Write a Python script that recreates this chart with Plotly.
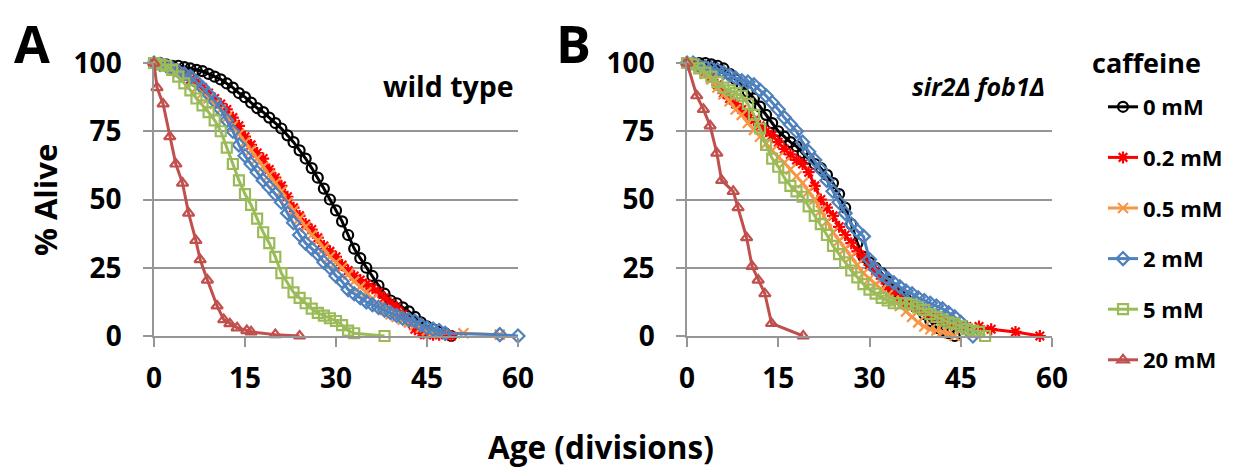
import plotly.graph_objects as go

# ---------------- data ----------------
labels = ["0 mM", "0.2 mM", "0.5 mM", "2 mM", "5 mM", "20 mM"]
colors = ["#000000", "#FF0000", "#F79646", "#4F81BD", "#9BBB59", "#C0504D"]
symbols = ["circle-open", "asterisk-open", "x-thin-open", "diamond-open", "square-open", "triangle-up-open"]

# Panel A : wild type
A_x_0 = [0,1,2,3,4,5,6,7,8,9,10,11,12,13,14,15,16,17,18,19,20,21,22,23,24,25,26,27,28,29,30,31,32,33,34,35,36,37,38,39,40,41,42,43,44,45,46,47,48,49]
A_y_0 = [100,100,99.5,99,99,98.5,98,97.5,97,96,95,94,92.5,91,89,87.5,85.5,83.5,82,80,78,76,73.5,71,68,65,61.5,58,54,50,46,42,37,32,28.5,25,22,18.5,15.5,13,12,10.5,9,7,5,3.5,2.5,1.5,1,0]

A_x_02 = [0,1,2,3,4,5,6,7,8,9,10,11,12,13,14,15,16,17,18,19,20,21,22,23,24,25,26,27,28,29,30,31,32,33,34,35,36,37,38,39,40,41,42,43,44,45,46,47,48,49]
A_y_02 = [100,100,99,98,97,96,94,93,91,89,87,85,83,80,77,73,70,67,65,61,58,55,51,47,44,41,39,36,33,31,29,26,24,22,20.5,19,17.5,16,14,12,10.5,8,5,2.5,1,0.5,0.5,0.5,0.5,0]

A_x_05 = [0,1,2,3,4,5,6,7,8,9,10,11,12,13,14,15,16,17,18,19,20,21,22,23,24,25,26,27,28,29,30,31,32,33,34,35,36,37,38,39,40,41,42,43,44,45,46,47,51,57]
A_y_05 = [100,99.5,99,98,96.5,95,93,91,89,87,85,83,80,77,74,71,68,65,62,59,56,53,49,46,43,40,37,35,32,29,27,25,22.5,20,18,16,13.5,11,9.5,8,7,6,5,4,3,2,1.5,1,1,0.5]

A_x_2 = [0,1,2,3,4,5,6,7,8,9,10,11,12,13,14,15,16,17,18,19,20,21,22,23,24,25,26,27,28,29,30,31,32,33,34,35,36,37,38,39,40,41,42,43,44,45,46,47,48,57,60]
A_y_2 = [100,99.5,99,98,97,96,95,93,91,88.5,86,83,79,75,70,66,63,60,57,54.5,52,49,45,41.5,37,34,32,30,27,25,22,20,17,15.5,14,12.5,11.5,10.5,9.5,8.5,7.5,6.5,6,5.5,4,3,2.5,2,1,0.5,0]

A_x_5 = [0,1,2,3,4,5,6,7,8,9,10,11,12,13,14,15,16,17,18,19,20,21,22,23,24,25,26,27,28,29,30,31,32,33,38]
A_y_5 = [100,99.5,99,97.5,95,92.5,90,87,84.5,82,79,75,69,63,57,52,48,43,38,34,29,23,19.5,16,14,12,10,8.5,7.5,6.5,5.5,4,2,1,0]

A_x_20 = [0,0.5,1.5,2.6,3.6,4.7,5.7,6.9,7.6,8.8,10.4,11.5,12.5,13.7,15.3,16,20,24]
A_y_20 = [100,91,85,73,63,56,45,35,28,20.5,11,6,4.5,3,2,1.5,0.5,0]

# Panel B : sir2 fob1
B_x_0 = [0,1,2,3,4,5,6,7,8,9,10,11,12,13,14,15,16,17,18,19,20,21,22,23,24,25,26,27,28,29,30,31,32,33,34,35,36,37,38,39,40,41,42,43,44]
B_y_0 = [100,100,100,100,99.5,99,98,96,94,92,89.5,87,84,81,78,75,73,71,69.5,67,65,63,61.5,59,56,52,47,41,34,29,27,25,23,20,17,15,13.5,12,10.5,8,5.5,3,2,1,0]

B_x_02 = [0,1,2,3,4,5,6,7,8,9,10,11,12,13,14,15,16,17,18,19,20,21,22,23,24,25,26,27,28,29,30,31,32,33,34,35,36,37,38,39,40,41,42,43,44,45,46,48,50,54,58]
B_y_02 = [100,100,99,97,95,92,89,87,85,83,81,79,77,75,73.5,71,68.5,66.5,64.5,63,60,55,50,47,44,40,37,34,31,29,26,24,21,18,16,14,12,11,10,9,8,7,6,5,4.5,3.5,3.5,3.5,2.5,1.5,0]

B_x_05 = [0,1,2,3,4,5,6,7,8,9,10,11,12,13,14,15,16,17,18,19,20,21,22,23,24,25,26,27,28,29,30,31,32,33,34,35,36,37,38,39,40,41,42,43,44]
B_y_05 = [100,99,98,96,94,91,88.5,86,83,81,78,75.5,73,70.5,68,65.5,63.5,61,58.5,56,53,50,46,42,38,35,32,29,26,23,21,19,17,15,13,11,9,7,5,3.5,2.5,2,1.5,1,0]

B_x_2 = [0,1,2,3,4,5,6,7,8,9,10,11,12,13,14,15,16,17,18,19,20,21,22,23,24,25,26,27,28,29,30,31,32,33,34,35,36,37,38,39,40,41,42,43,44,45,46,47]
B_y_2 = [100,100,99,98.5,98,97.5,96.5,95.5,94.5,93.5,93,92,90,88,85.5,83,80,77.5,75,71,67.5,64.5,61,57,53,49,45,41,38.5,36.5,28,24.5,22.5,21,19.5,18,16.5,15.5,14,13,12,11,10,8.5,7,5,2.5,0]

B_x_5 = [0,1,2,3,4,5,6,7,8,9,10,11,12,13,14,15,16,17,18,19,20,21,22,23,24,25,26,27,28,29,30,31,32,33,34,35,36,37,38,39,40,41,42,43,44,45,46,47,48,49]
B_y_5 = [100,99.5,98,96.5,95,93,91,90,89,88,85,81,76,70,65,62,58,55,53,51,47.5,44,41,37,33,30,27,24,21.5,19,17,15.5,14,13,12,12,12,11.5,10.5,9.5,8,7,6,5,4.5,3.5,2.5,2,1.5,0]

B_x_20 = [0,1.6,2.7,3.8,4.9,5.7,7.6,8.4,9.8,10.7,11.7,12.8,13.9,19.1]
B_y_20 = [100,88,83,77,67,57,53,47,36,25.5,20.5,15.5,4.6,0]

x_ticks = [0, 15, 30, 45, 60]
y_ticks = [0, 25, 50, 75, 100]

A_series = [(A_x_0, A_y_0), (A_x_02, A_y_02), (A_x_05, A_y_05), (A_x_2, A_y_2), (A_x_5, A_y_5), (A_x_20, A_y_20)]
B_series = [(B_x_0, B_y_0), (B_x_02, B_y_02), (B_x_05, B_y_05), (B_x_2, B_y_2), (B_x_5, B_y_5), (B_x_20, B_y_20)]

FONT = "Open Sans"
fig = go.Figure()

for panel, series in (("A", A_series), ("B", B_series)):
    for i, (xs, ys) in enumerate(series):
        fig.add_trace(go.Scatter(
            x=xs, y=ys, mode="lines+markers", name=labels[i],
            legendgroup=labels[i], showlegend=(panel == "A"),
            xaxis="x" if panel == "A" else "x2",
            yaxis="y" if panel == "A" else "y2",
            line=dict(color=colors[i], width=3),
            marker=dict(symbol=symbols[i], size=10, color=colors[i],
                        line=dict(color=colors[i], width=2.2)),
            cliponaxis=False,
        ))

grid = "#969696"
axis_common = dict(
    showgrid=False, showline=True, linecolor=grid, linewidth=1.5,
    ticks="outside", ticklen=9, tickcolor=grid, tickwidth=1.5,
    tickfont=dict(family=FONT, size=28, color="black", weight="bold"),
    zeroline=False, fixedrange=True, automargin=False, ticklabelstandoff=8,
)
yaxis_common = dict(
    showgrid=True, gridcolor=grid, gridwidth=1.5, showline=True, linecolor=grid, linewidth=1.5,
    ticks="outside", ticklen=9, tickcolor=grid, tickwidth=1.5,
    tickfont=dict(family=FONT, size=28, color="black", weight="bold"),
    zeroline=False, range=[0, 100], tickvals=y_ticks, ticklabelstandoff=16,
    automargin=False,
)

y_dom = [1 - 336 / 469, 1 - 63 / 469]
fig.update_layout(
    width=1241, height=469,
    margin=dict(l=0, r=0, t=0, b=0, pad=0, autoexpand=False),
    paper_bgcolor="white", plot_bgcolor="white",
    xaxis=dict(axis_common, domain=[154 / 1241, 518 / 1241], range=[0, 60], tickvals=x_ticks, anchor="y"),
    yaxis=dict(yaxis_common, domain=y_dom, anchor="x"),
    xaxis2=dict(axis_common, domain=[687 / 1241, 1052 / 1241], range=[0, 60], tickvals=x_ticks, anchor="y2"),
    yaxis2=dict(yaxis_common, domain=y_dom, anchor="x2"),
    legend=dict(
        x=1103 / 1241, y=1 - 86 / 469, xanchor="left", yanchor="top",
        font=dict(family=FONT, size=22, color="black", weight="bold"),
        tracegroupgap=19, bgcolor="rgba(0,0,0,0)", itemclick=False,
    ),
    showlegend=True,
)

annos = [
    dict(text="A", x=32 / 1241, y=1 - 43 / 469, font=dict(size=52)),
    dict(text="B", x=573 / 1241, y=1 - 43 / 469, font=dict(size=52)),
    dict(text="wild type", x=516 / 1241, y=1 - 86 / 469, xanchor="right", font=dict(size=28.5)),
    dict(text="<i>sir2Δ fob1Δ</i>", x=1047 / 1241, y=1 - 86 / 469, xanchor="right", font=dict(size=25)),
    dict(text="caffeine", x=1146 / 1241, y=1 - 63 / 469, font=dict(size=27)),
    dict(text="Age (divisions)", x=601 / 1241, y=1 - 446 / 469, font=dict(size=31.5)),
    dict(text="% Alive", x=45 / 1241, y=1 - 200 / 469, textangle=-90, font=dict(size=31)),
]
for a in annos:
    f = dict(family=FONT, color="black", weight="bold")
    f.update(a.pop("font"))
    fig.add_annotation(xref="paper", yref="paper", showarrow=False,
                       xanchor=a.pop("xanchor", "center"), yanchor="middle",
                       font=f, **a)

fig.write_html("out.html")
